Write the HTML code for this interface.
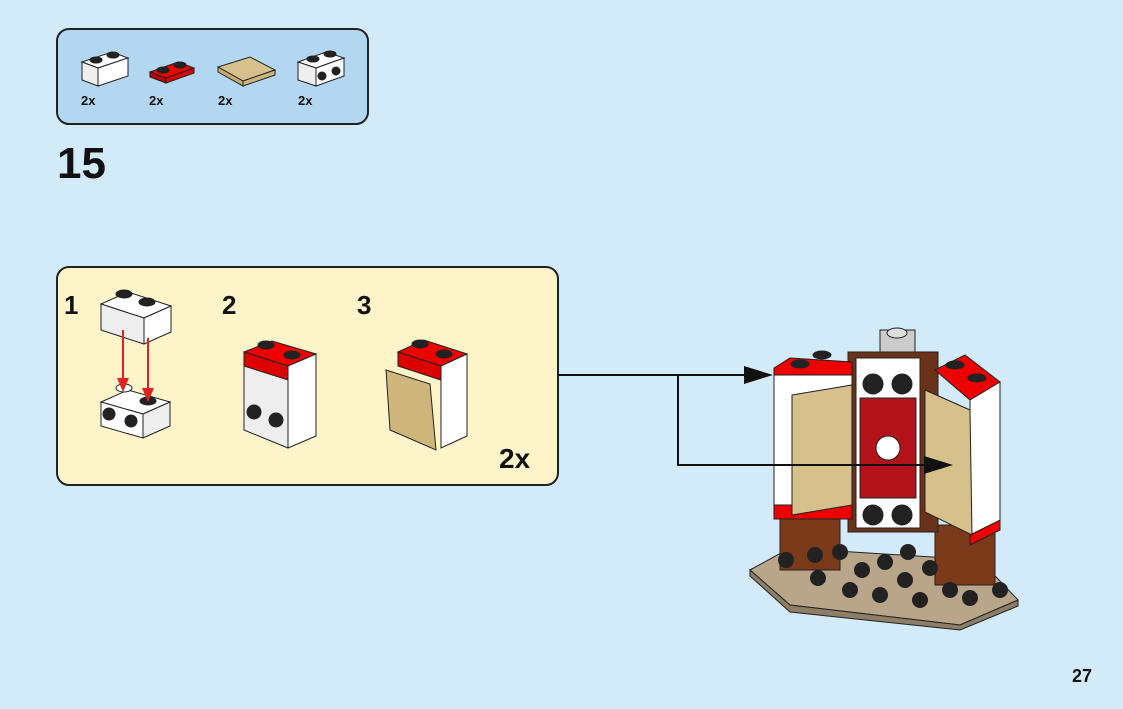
<!DOCTYPE html>
<html><head><meta charset="utf-8"><style>
html,body{margin:0;padding:0;background:#d3eaf9;}
svg{display:block}
text{font-family:"Liberation Sans",sans-serif;font-weight:bold;fill:#111}
</style></head><body>
<svg width="1123" height="709" viewBox="0 0 1123 709" xmlns="http://www.w3.org/2000/svg">
<rect width="1123" height="709" fill="#d3eaf9"/>
<rect x="57" y="29" width="311" height="95" rx="12" fill="#b3d7f1" stroke="#222" stroke-width="2"/>
<g stroke="#222" stroke-width="1">
<polygon points="82,62 112,52 128,58 98,68" fill="#fff"/>
<polygon points="82,62 98,68 98,86 82,80" fill="#eee"/>
<polygon points="98,68 128,58 128,76 98,86" fill="#fff"/>
<ellipse cx="96" cy="60" rx="6" ry="3" fill="#222"/><ellipse cx="113" cy="55" rx="6" ry="3" fill="#222"/>
<polygon points="150,72 178,62 194,68 166,78" fill="#e00"/>
<polygon points="150,72 166,78 166,83 150,77" fill="#b00"/>
<polygon points="166,78 194,68 194,73 166,83" fill="#d00"/>
<ellipse cx="163" cy="70" rx="6" ry="3" fill="#222"/><ellipse cx="180" cy="65" rx="6" ry="3" fill="#222"/>
<polygon points="218,67 250,57 275,70 243,81" fill="#d6c08b"/>
<polygon points="218,67 243,81 243,86 218,72" fill="#c4aa70"/>
<polygon points="243,81 275,70 275,75 243,86" fill="#cdb57c"/>
<polygon points="298,62 326,52 344,58 316,68" fill="#fff"/>
<polygon points="298,62 316,68 316,86 298,80" fill="#eee"/>
<polygon points="316,68 344,58 344,76 316,86" fill="#fff"/>
<ellipse cx="313" cy="59" rx="6" ry="3" fill="#222"/><ellipse cx="330" cy="54" rx="6" ry="3" fill="#222"/>
<circle cx="322" cy="76" r="4" fill="#222"/><circle cx="336" cy="71" r="4" fill="#222"/>
</g>
<text x="81" y="105" font-size="13">2x</text>
<text x="149" y="105" font-size="13">2x</text>
<text x="218" y="105" font-size="13">2x</text>
<text x="298" y="105" font-size="13">2x</text>
<text x="57" y="178" font-size="44">15</text>

<rect x="57" y="267" width="501" height="218" rx="12" fill="#fdf4c9" stroke="#222" stroke-width="2"/>
<text x="64" y="314" font-size="26">1</text>
<text x="222" y="314" font-size="26">2</text>
<text x="357" y="314" font-size="26">3</text>
<text x="499" y="468" font-size="28">2x</text>
<g stroke="#222" stroke-width="1">
<polygon points="101,304 128,292 171,306 144,318" fill="#fff"/>
<polygon points="101,304 144,318 144,344 101,330" fill="#eee"/>
<polygon points="144,318 171,306 171,332 144,344" fill="#fff"/>
<ellipse cx="124" cy="294" rx="8" ry="4" fill="#222"/><ellipse cx="147" cy="302" rx="8" ry="4" fill="#222"/>
<polygon points="101,402 128,390 170,402 143,414" fill="#fff"/>
<polygon points="101,402 143,414 143,438 101,426" fill="#fff"/>
<polygon points="143,414 170,402 170,426 143,438" fill="#eee"/>
<ellipse cx="124" cy="388" rx="8" ry="4" fill="#fff"/><ellipse cx="148" cy="401" rx="8" ry="4" fill="#222"/>
<circle cx="109" cy="414" r="6" fill="#222"/><circle cx="131" cy="421" r="6" fill="#222"/>
</g>
<line x1="123" y1="330" x2="123" y2="380" stroke="#d22" stroke-width="2"/>
<polygon points="117,378 129,378 123,392" fill="#d22"/>
<line x1="148" y1="338" x2="148" y2="390" stroke="#d22" stroke-width="2"/>
<polygon points="142,388 154,388 148,402" fill="#d22"/>
<g stroke="#222" stroke-width="1">
<polygon points="244,352 272,341 316,354 288,366" fill="#e00"/>
<polygon points="244,352 288,366 288,448 244,430" fill="#eee"/>
<polygon points="288,366 316,354 316,436 288,448" fill="#fff"/>
<polygon points="244,352 288,366 288,380 244,366" fill="#d00"/>
<ellipse cx="266" cy="345" rx="8" ry="4" fill="#222"/><ellipse cx="292" cy="355" rx="8" ry="4" fill="#222"/>
<circle cx="254" cy="412" r="7" fill="#222"/><circle cx="276" cy="420" r="7" fill="#222"/>
<polygon points="398,352 424,340 467,354 441,366" fill="#e00"/>
<polygon points="398,352 441,366 441,380 398,366" fill="#d00"/>
<polygon points="441,366 467,354 467,436 441,448" fill="#fff"/>
<polygon points="386,370 430,384 436,450 390,430" fill="#cdb57c"/>
<ellipse cx="420" cy="344" rx="8" ry="4" fill="#222"/><ellipse cx="444" cy="354" rx="8" ry="4" fill="#222"/>
</g>

<g stroke="#222" stroke-width="1">
<polygon points="750,570 790,548 980,560 1018,600 960,625 790,605" fill="#b8a58a"/>
<polygon points="750,570 790,605 960,625 1018,600 1018,606 960,630 790,612 750,576" fill="#8f7e66"/>
<rect x="780" y="515" width="60" height="55" fill="#7a3a1a"/>
<rect x="935" y="525" width="60" height="60" fill="#7a3a1a"/>
<rect x="880" y="330" width="35" height="22" fill="#ccc"/>
<ellipse cx="897" cy="333" rx="10" ry="5" fill="#ddd"/>
<rect x="848" y="352" width="90" height="180" fill="#6a3218"/>
<rect x="856" y="358" width="64" height="170" fill="#fff"/>
<circle cx="873" cy="384" r="10" fill="#222"/><circle cx="902" cy="384" r="10" fill="#222"/>
<circle cx="873" cy="515" r="10" fill="#222"/><circle cx="902" cy="515" r="10" fill="#222"/>
<rect x="860" y="398" width="56" height="100" fill="#b3141c"/>
<circle cx="888" cy="448" r="12" fill="#fff"/>
<polygon points="774,368 790,358 852,362 852,385 790,380 774,375" fill="#e00"/>
<rect x="774" y="375" width="78" height="140" fill="#fff"/>
<rect x="774" y="505" width="78" height="14" fill="#e00"/>
<polygon points="792,395 852,385 852,505 792,515" fill="#d6c08b"/>
<ellipse cx="800" cy="364" rx="9" ry="4" fill="#222"/><ellipse cx="822" cy="355" rx="9" ry="4" fill="#222"/>
<polygon points="935,370 965,355 1000,382 970,400" fill="#e00"/>
<polygon points="970,400 1000,382 1000,530 970,545" fill="#fff"/>
<polygon points="970,535 1000,520 1000,530 970,545" fill="#e00"/>
<polygon points="925,390 970,410 972,535 925,512" fill="#d6c08b"/>
<ellipse cx="955" cy="365" rx="9" ry="4" fill="#222"/><ellipse cx="977" cy="378" rx="9" ry="4" fill="#222"/>
</g>
<g fill="#222">
<circle cx="786" cy="560" r="8"/><circle cx="818" cy="578" r="8"/><circle cx="840" cy="552" r="8"/><circle cx="862" cy="570" r="8"/><circle cx="885" cy="562" r="8"/><circle cx="908" cy="552" r="8"/><circle cx="905" cy="580" r="8"/><circle cx="930" cy="568" r="8"/><circle cx="950" cy="590" r="8"/><circle cx="970" cy="598" r="8"/><circle cx="1000" cy="590" r="8"/><circle cx="815" cy="555" r="8"/><circle cx="850" cy="590" r="8"/><circle cx="880" cy="595" r="8"/><circle cx="920" cy="600" r="8"/>
</g>
<!-- arrows on top -->
<polyline points="558,375 760,375" fill="none" stroke="#111" stroke-width="2"/>
<polyline points="678,375 678,465 940,465" fill="none" stroke="#111" stroke-width="2"/>
<polygon points="744,366 773,375 744,384" fill="#111"/>
<polygon points="924,456 953,465 924,474" fill="#111"/>
<text x="1072" y="682" font-size="18">27</text>
</svg>
</body></html>
